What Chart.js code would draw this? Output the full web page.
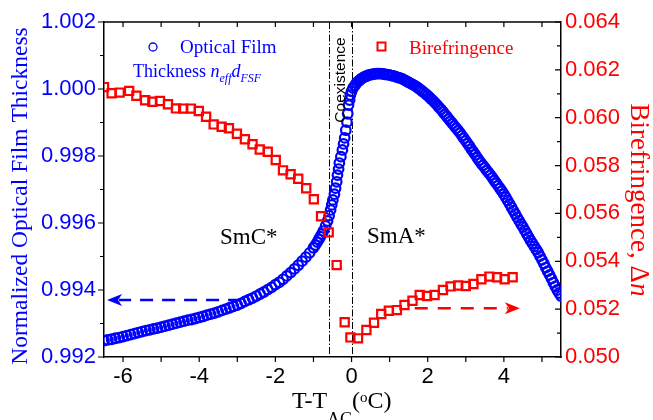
<!DOCTYPE html>
<html>
<head>
<meta charset="utf-8">
<script src="https://cdn.jsdelivr.net/npm/chart.js@4/dist/chart.umd.min.js"></script>
<style>
  html, body { margin: 0; padding: 0; background: #fff; }
</style>
</head>
<body>
<canvas id="myChart" width="653" height="420"></canvas>
<script>
// T - T_AC (degC) and normalized optical film thickness
const filmT = [
  -6.5,-6.4,-6.3,-6.2,-6.1,-6.0,-5.9,-5.8,-5.7,-5.6,
  -5.5,-5.4,-5.3,-5.2,-5.1,-5.0,-4.9,-4.8,-4.7,-4.6,
  -4.5,-4.4,-4.3,-4.2,-4.1,-4.0,-3.9,-3.8,-3.7,-3.6,
  -3.5,-3.4,-3.3,-3.2,-3.1,-3.0,-2.9,-2.8,-2.7,-2.6,
  -2.5,-2.4,-2.3,-2.2,-2.1,-2.0,-1.9,-1.8,-1.7,-1.6,
  -1.5,-1.4,-1.3,-1.2,-1.1,
  -1.00,-0.95,-0.90,-0.86,-0.82,-0.78,-0.74,
  -0.68,-0.63,-0.59,-0.55,-0.52,-0.49,-0.45,-0.42,-0.39,-0.37,
  -0.34,-0.32,-0.28,-0.24,-0.21,-0.18,-0.15,-0.12,-0.10,-0.08,
  -0.05,-0.03,
  0.00,0.04,0.09,0.13,0.17,0.20,0.23,0.26,0.30,0.34,
  0.38,0.42,0.46,0.51,0.56,0.61,0.66,0.71,0.76,0.82,
  0.87,0.93,0.99,1.05,1.10,1.16,1.21,1.26,1.32,1.37,
  1.42,1.47,
  1.50,1.55,1.60,1.65,1.70,1.75,1.80,1.85,1.90,1.95,
  2.00,2.05,2.10,2.15,2.20,2.25,2.30,2.35,2.40,2.45,
  2.50,2.55,2.60,2.65,2.70,2.75,2.80,2.85,2.90,2.95,
  3.00,3.05,3.10,3.15,3.20,3.25,3.30,3.35,3.40,3.45,
  3.50,3.55,3.60,3.65,3.70,3.75,3.80,3.85,3.90,3.95,
  4.00,4.05,4.10,4.15,4.20,4.25,4.30,4.35,4.40,4.45,
  4.50,4.55,4.60,4.65,4.70,4.75,4.80,4.85,4.90,4.95,
  5.00,5.05,5.10,5.15,5.20,5.25,5.30,5.35,5.40,5.45,
  5.50
]
const filmThick = [
  0.99249,0.99251,0.99253,0.99256,0.99258,0.99261,0.99264,0.99267,0.99270,0.99273,
  0.99276,0.99279,0.99281,0.99284,0.99286,0.99289,0.99292,0.99295,0.99298,0.99301,
  0.99304,0.99307,0.99310,0.99312,0.99315,0.99318,0.99321,0.99325,0.99328,0.99331,
  0.99335,0.99339,0.99343,0.99347,0.99351,0.99355,0.99360,0.99366,0.99371,0.99376,
  0.99382,0.99388,0.99394,0.99401,0.99408,0.99416,0.99423,0.99432,0.99442,0.99452,
  0.99463,0.99474,0.99486,0.99498,0.99511,
  0.99526,0.99534,0.99543,0.99551,0.99559,0.99567,0.99576,
  0.99591,0.99606,0.99622,0.99639,0.99654,0.99669,0.99686,0.99704,0.99723,0.99743,
  0.99761,0.99779,0.99798,0.99818,0.99836,0.99854,0.99877,0.99901,0.99926,0.99952,
  0.99967,0.99982,
  0.99993,1.00003,1.00011,1.00018,1.00022,1.00025,1.00028,1.00031,1.00034,1.00036,
  1.00038,1.00040,1.00042,1.00043,1.00044,1.00045,1.00046,1.00046,1.00046,1.00045,
  1.00044,1.00043,1.00042,1.00040,1.00039,1.00037,1.00035,1.00033,1.00031,1.00028,
  1.00025,1.00022,
  1.00020,1.00017,1.00014,1.00011,1.00007,1.00003,0.99999,0.99994,0.99990,0.99985,
  0.99980,0.99975,0.99969,0.99964,0.99958,0.99952,0.99945,0.99939,0.99932,0.99925,
  0.99918,0.99911,0.99904,0.99897,0.99890,0.99883,0.99876,0.99869,0.99861,0.99853,
  0.99845,0.99837,0.99829,0.99820,0.99812,0.99804,0.99795,0.99787,0.99779,0.99772,
  0.99765,0.99757,0.99750,0.99743,0.99735,0.99727,0.99719,0.99711,0.99703,0.99695,
  0.99686,0.99677,0.99667,0.99657,0.99647,0.99637,0.99627,0.99617,0.99607,0.99597,
  0.99588,0.99578,0.99568,0.99558,0.99548,0.99539,0.99530,0.99521,0.99512,0.99501,
  0.99490,0.99479,0.99467,0.99456,0.99445,0.99434,0.99422,0.99411,0.99400,0.99391,
  0.99382
]

// birefringence, delta n
const biT = [
  -6.50,-6.30,-6.09,-5.84,-5.65,-5.42,-5.23,-5.03,-4.82,-4.61,
  -4.42,-4.22,-4.01,-3.82,-3.62,-3.41,-3.22,-3.01,-2.80,-2.60,
  -2.41,-2.20,-1.99,-1.80,-1.60,-1.40,-1.19,-0.99,-0.80,-0.60,
  -0.39,-0.18,-0.03,0.17,0.39,0.59,0.78,0.98,1.19,1.39,
  1.60,1.79,1.98,2.18,2.40,2.60,2.80,3.00,3.20,3.41,
  3.62,3.82,4.02,4.23
]
const biDn = [
  0.06128,0.06102,0.06105,0.06112,0.06092,0.06073,0.06067,0.06070,0.06056,0.06039,
  0.06038,0.06038,0.06028,0.06004,0.05972,0.05962,0.05956,0.05933,0.05910,0.05889,
  0.05867,0.05858,0.05823,0.05780,0.05764,0.05745,0.05705,0.05659,0.05588,0.05521,
  0.05384,0.05145,0.05082,0.05078,0.05113,0.05143,0.05180,0.05193,0.05196,0.05217,
  0.05235,0.05259,0.05255,0.05259,0.05280,0.05295,0.05299,0.05297,0.05305,0.05325,
  0.05336,0.05333,0.05325,0.05333
]

const xTicks = [-6, -4, -2, 0, 2, 4]
const leftTicks = [0.992, 0.994, 0.996, 0.998, 1.000, 1.002]
const rightTicks = [0.050, 0.052, 0.054, 0.056, 0.058, 0.060, 0.062, 0.064]

// coexistence region boundaries
const phaseLines = [-0.6, 0]

const blue = '#0000ff'
const red = '#ff0000'
const serif = '"Liberation Serif", "Times New Roman", serif'
const sans = '"Liberation Sans", Arial, sans-serif'

function drawRuns(ctx, x, y, parts) {
  parts.forEach(([t, f, dy]) => {
    ctx.font = f
    ctx.fillText(t, x, y + (dy || 0))
    x += ctx.measureText(t).width
  })
}
function runsWidth(ctx, parts) {
  let w = 0
  parts.forEach(([t, f]) => { ctx.font = f; w += ctx.measureText(t).width })
  return w
}

function dashedArrow(ctx, x0, x1, y, color, dash) {
  const dir = Math.sign(x1 - x0)
  const base = x1 - dir * 15
  ctx.save()
  ctx.strokeStyle = color
  ctx.fillStyle = color
  ctx.lineWidth = 2.5
  ctx.setLineDash(dash)
  ctx.beginPath()
  ctx.moveTo(x0, y)
  ctx.lineTo(base + dir * 3, y)
  ctx.stroke()
  ctx.setLineDash([])
  ctx.beginPath()
  ctx.moveTo(x1, y)
  ctx.lineTo(base, y - 6)
  ctx.lineTo(base + dir * 4, y)
  ctx.lineTo(base, y + 6)
  ctx.closePath()
  ctx.fill()
  ctx.restore()
}

const decor = {
  id: 'decor',
  beforeDatasetsDraw(chart) {
    const { ctx, chartArea: a, scales: { x } } = chart
    ctx.save()
    ctx.strokeStyle = '#000'
    ctx.lineWidth = 1
    ctx.setLineDash([7, 2, 1.5, 2])
    phaseLines.forEach(v => {
      const px = Math.round(x.getPixelForValue(v)) + 0.5
      ctx.beginPath()
      ctx.moveTo(px, a.top)
      ctx.lineTo(px, a.bottom)
      ctx.stroke()
    })
    ctx.restore()
  },
  afterDraw(chart) {
    const { ctx, chartArea: a, scales: { x, y, y1 } } = chart
    ctx.save()

    // frame top + tick marks
    ctx.strokeStyle = '#000'
    ctx.lineWidth = 1.5
    ctx.beginPath()
    ctx.moveTo(a.left, a.top)
    ctx.lineTo(a.right, a.top)
    ctx.stroke()
    ctx.lineWidth = 1.2
    ctx.beginPath()
    for (let v = -6; v <= 5; v++) {
      const p = x.getPixelForValue(v)
      ctx.moveTo(p, a.bottom); ctx.lineTo(p, a.bottom + 5)
      ctx.moveTo(p, a.top); ctx.lineTo(p, a.top + 5)
    }
    for (let i = 0; i <= 10; i++) {
      const p = y.getPixelForValue(0.992 + i * 0.001)
      const len = i % 2 ? 4 : 6
      ctx.moveTo(a.left, p); ctx.lineTo(a.left - len, p)
    }
    for (let i = 0; i <= 14; i++) {
      const p = y1.getPixelForValue(0.050 + i * 0.001)
      const len = i % 2 ? 4 : 6
      ctx.moveTo(a.right, p); ctx.lineTo(a.right - len, p)
    }
    ctx.stroke()

    // arrows pointing to each series' axis
    dashedArrow(ctx, x.getPixelForValue(-2.9), x.getPixelForValue(-6.42),
      y.getPixelForValue(0.9937), blue, [13, 9])
    dashedArrow(ctx, x.getPixelForValue(1.66), x.getPixelForValue(4.42),
      y1.getPixelForValue(0.05204), red, [13, 10])

    // legend
    ctx.lineWidth = 1.3
    ctx.strokeStyle = blue
    ctx.beginPath()
    ctx.arc(153, 47, 4, 0, Math.PI * 2)
    ctx.stroke()
    ctx.strokeStyle = red
    ctx.lineWidth = 2
    ctx.strokeRect(377.5, 42.5, 8, 8)

    ctx.textAlign = 'left'
    ctx.textBaseline = 'alphabetic'
    ctx.fillStyle = blue
    ctx.font = '19px ' + serif
    ctx.fillText('Optical Film', 180, 53)
    drawRuns(ctx, 133, 77, [
      ['Thickness ', '18px ' + serif],
      ['n', 'italic 18px ' + serif],
      ['eff', 'italic 12px ' + serif, 5],
      ['d', 'italic 18px ' + serif],
      ['FSF', 'italic 12px ' + serif, 5]
    ])
    ctx.fillStyle = red
    ctx.font = '19px ' + serif
    ctx.fillText('Birefringence', 409, 54)

    // phase labels
    ctx.fillStyle = '#000'
    ctx.font = '23px ' + serif
    ctx.fillText('SmC*', 220, 244)
    ctx.fillText('SmA*', 367, 243)

    ctx.save()
    ctx.translate(345, 80)
    ctx.rotate(-Math.PI / 2)
    ctx.textAlign = 'center'
    ctx.font = '15.5px ' + sans
    ctx.fillText('Coexistence', 0, 0)
    ctx.restore()

    // axis titles
    ctx.save()
    ctx.translate(27, 196)
    ctx.rotate(-Math.PI / 2)
    ctx.textAlign = 'center'
    ctx.fillStyle = blue
    ctx.font = '23.5px ' + serif
    ctx.fillText('Normalized Optical Film Thickness', 0, 0)
    ctx.restore()

    const rt = [
      ['Birefringence, \u0394', '27px ' + serif],
      ['n', 'italic 27px ' + serif]
    ]
    ctx.save()
    ctx.translate(631, 200)
    ctx.rotate(Math.PI / 2)
    ctx.fillStyle = red
    drawRuns(ctx, -runsWidth(ctx, rt) / 2, 0, rt)
    ctx.restore()

    ctx.fillStyle = '#000'
    drawRuns(ctx, 292, 408, [
      ['T-T', '24px ' + serif],
      ['AC', '18px ' + serif, 17],
      ['(', '24px ' + serif],
      ['o', '15px ' + serif, -6],
      ['C)', '24px ' + serif]
    ])

    ctx.restore()
  }
}

const data = {
  datasets: [{
    label: 'Birefringence',
    data: biT.map((t, i) => ({ x: t, y: biDn[i] })),
    yAxisID: 'y1',
    order: 0,
    pointStyle: 'rect',
    pointRadius: 5.8,
    pointBorderWidth: 2.2,
    borderColor: red,
    backgroundColor: 'rgba(0,0,0,0)',
    showLine: false
  }, {
    label: 'Optical Film Thickness',
    data: filmT.map((t, i) => ({ x: t, y: filmThick[i] })),
    yAxisID: 'y',
    order: 1,
    pointStyle: 'circle',
    pointRadius: 4.8,
    pointBorderWidth: 2.2,
    borderColor: blue,
    backgroundColor: 'rgba(0,0,0,0)',
    showLine: false
  }]
}

const config = {
  type: 'scatter',
  data: data,
  options: {
    responsive: false,
    animation: false,
    devicePixelRatio: 1,
    layout: { padding: { top: 22, left: 0, right: 0, bottom: 0 } },
    plugins: { legend: { display: false }, tooltip: { enabled: false } },
    scales: {
      x: {
        type: 'linear', position: 'bottom', min: -6.5, max: 5.5,
        afterBuildTicks: s => { s.ticks = xTicks.map(v => ({ value: v })) },
        afterFit: s => { s.height = 63 },
        grid: { display: false, drawTicks: false },
        border: { display: true, color: '#000', width: 1.5 },
        ticks: { color: '#000', padding: 7, font: { family: sans, size: 22 } }
      },
      y: {
        type: 'linear', position: 'left', min: 0.992, max: 1.002,
        afterBuildTicks: s => { s.ticks = leftTicks.map(v => ({ value: v })) },
        afterFit: s => { s.width = 104 },
        grid: { display: false, drawTicks: false },
        border: { display: true, color: '#000', width: 1.5 },
        ticks: { color: blue, padding: 8, font: { family: sans, size: 22 },
          callback: v => v.toFixed(3) }
      },
      y1: {
        type: 'linear', position: 'right', min: 0.050, max: 0.064,
        afterBuildTicks: s => { s.ticks = rightTicks.map(v => ({ value: v })) },
        afterFit: s => { s.width = 92 },
        grid: { display: false, drawTicks: false },
        border: { display: true, color: '#000', width: 1.5 },
        ticks: { color: red, padding: 4, font: { family: sans, size: 22 },
          callback: v => v.toFixed(3) }
      }
    }
  },
  plugins: [decor]
}

const myChart = new Chart(document.getElementById('myChart'), config)
</script>
</body>
</html>
